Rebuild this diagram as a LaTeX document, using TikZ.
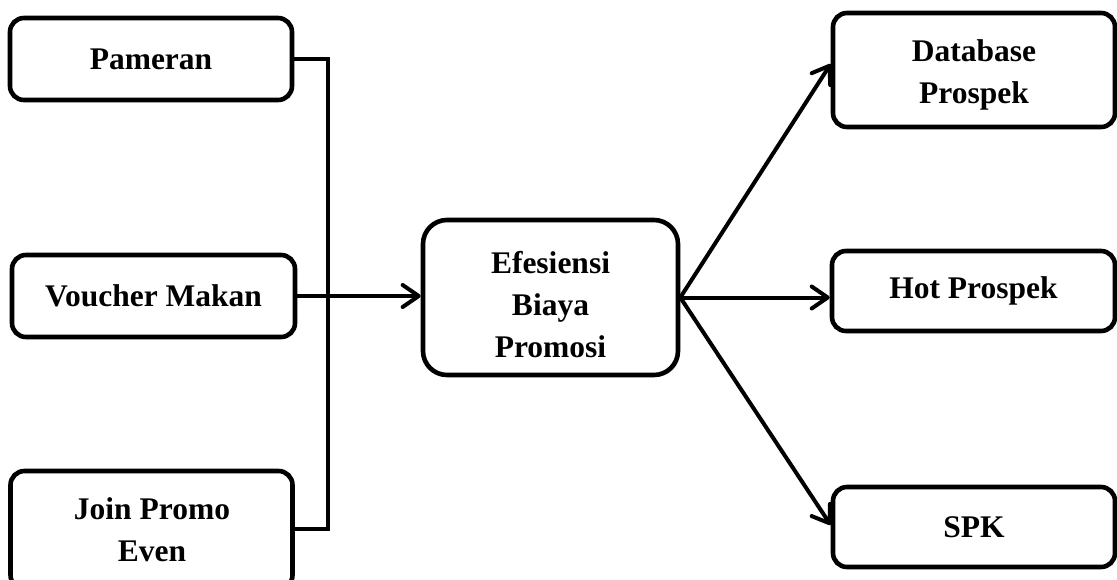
\documentclass[tikz,border=0pt]{standalone}
\usepackage{fontspec}
\setmainfont{Liberation Serif}
\usetikzlibrary{arrows.meta,shadows}
\begin{document}
\begin{tikzpicture}[x=1pt,y=-1pt,
  box/.style={draw=black, line width=4.6pt, fill=white, rounded corners=14pt,
    inner sep=0pt, align=center, font=\fontsize{31.5}{42}\selectfont\bfseries,
    drop shadow={opacity=0.18, shadow xshift=2pt, shadow yshift=-2pt}},
  txt/.style={inner sep=0pt, align=center, font=\fontsize{31.5}{42}\selectfont\bfseries},
  conn/.style={line width=4.6pt, line cap=round, line join=miter},
  arr/.style={line width=4pt, line cap=round, -{Straight Barb[length=16pt,width=22pt,line cap=round,line join=round]}}]
\useasboundingbox (0,0) rectangle (1117,579);
% left boxes
\node[box, minimum width=282pt, minimum height=82pt] (pam) at (151,59) {Pameran};
\node[box, minimum width=283pt, minimum height=82pt] (vou) at (153.5,296) {Voucher Makan};
\node[box, minimum width=282pt, minimum height=118pt] (join) at (151.5,530) {};
\node[txt] (jointxt) at (152,530) {Join Promo\\Even};
% centre
\node[box, rounded corners=24pt, minimum width=255pt, minimum height=155pt] (efe) at (550.5,297.5) {};
\node[txt] (efetxt) at (550.5,305) {Efesiensi\\Biaya\\Promosi};
% right boxes
\node[box, minimum width=282pt, minimum height=114pt] (db) at (974,70) {};
\node[txt] (dbtxt) at (974,75) {Database\\Prospek};
\node[box, minimum width=283pt, minimum height=80pt] (hot) at (973.5,291) {Hot Prospek};
\node[box, minimum width=282pt, minimum height=80pt] (spk) at (974,527) {SPK};
% bus
\coordinate (bt) at (328,59);
\coordinate (bb) at (328,529);
\draw[conn] (pam.east) -- (bt) -- (bb) -- (bb -| join.east);
\draw[arr] (vou.east) -- (vou.east -| efe.west);
\draw[arr] (efe.east) -- ([yshift=6pt]db.west);
\draw[arr] (efe.east) -- (efe.east -| hot.west);
\draw[arr] (efe.east) -- ([yshift=2pt]spk.west);
\end{tikzpicture}
\end{document}
